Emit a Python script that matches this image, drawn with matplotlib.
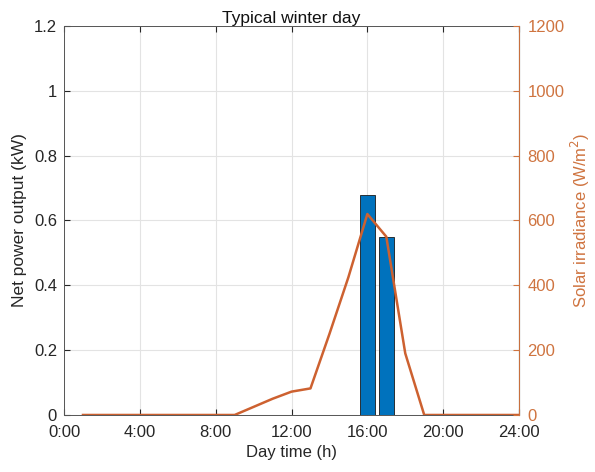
import matplotlib.pyplot as plt
from matplotlib.ticker import FuncFormatter

plt.rcParams['font.family'] = ['Liberation Sans', 'DejaVu Sans']

# hourly data for a typical winter day
hours = list(range(1, 25))
irradiance = [0, 0, 0, 0, 0, 0, 0, 0, 0, 25, 50, 72,
              82, 250, 425, 620, 550, 190, 0, 0, 0, 0, 0, 0]
power = [0, 0, 0, 0, 0, 0, 0, 0, 0, 0, 0, 0,
         0, 0, 0, 0.68, 0.55, 0, 0, 0, 0, 0, 0, 0]
x_ticks = [0, 4, 8, 12, 16, 20, 24]
x_labels = ['0:00', '4:00', '8:00', '12:00', '16:00', '20:00', '24:00']

BLUE = '#0072BD'
ORANGE = '#CD6130'
ORANGE_TXT = '#CF7440'
DARK = '#262626'

fig = plt.figure(figsize=(5.95, 4.72), dpi=100)
ax = fig.add_axes([0.1076, 0.1208, 0.7647, 0.8241])

bar_x = [h for h, p in zip(hours, power) if p > 0]
bar_h = [p for p in power if p > 0]
ax.bar(bar_x, bar_h, width=0.8, color=BLUE, edgecolor='#1a1a1a', linewidth=0.6, zorder=3)

ax.set_xlim(0, 24)
ax.set_ylim(0, 1.2)
ax.set_xticks(x_ticks)
ax.set_xticklabels(x_labels)
ax.set_yticks([0, 0.2, 0.4, 0.6, 0.8, 1.0, 1.2])
ax.yaxis.set_major_formatter(FuncFormatter(lambda v, p: f'{v:g}'))
ax.grid(True, color='#e3e3e3', linewidth=0.8, zorder=0)
ax.set_axisbelow(True)
ax.tick_params(direction='in', labelsize=12, length=4, top=True, colors=DARK)
ax.tick_params(axis='x', pad=7)
ax.tick_params(axis='y', pad=5)
ax.set_xlabel('Day time (h)', fontsize=12, color=DARK, labelpad=4)
ax.set_ylabel('Net power output (kW)', fontsize=12.5, color=DARK, labelpad=5)
ax.set_title('Typical winter day', fontsize=12.5, color='#111111', pad=2)
for side in ('left', 'bottom', 'top'):
    ax.spines[side].set_color('#555555')
    ax.spines[side].set_linewidth(0.7)

ax2 = ax.twinx()
ax2.plot(hours, irradiance, color=ORANGE, linewidth=1.8, zorder=4)
ax2.set_ylim(0, 1200)
ax2.set_yticks([0, 200, 400, 600, 800, 1000, 1200])
ax2.tick_params(direction='in', labelsize=12, length=4, pad=6, colors=ORANGE_TXT)
ax2.set_ylabel('Solar irradiance (W/m$^2$)', fontsize=12, color=ORANGE_TXT, labelpad=3)
ax2.spines['right'].set_color(ORANGE_TXT)
ax2.spines['right'].set_linewidth(0.7)
ax2.spines['left'].set_visible(False)
ax2.spines['top'].set_visible(False)
ax2.spines['bottom'].set_visible(False)

fig.savefig('out.png', dpi=100)
